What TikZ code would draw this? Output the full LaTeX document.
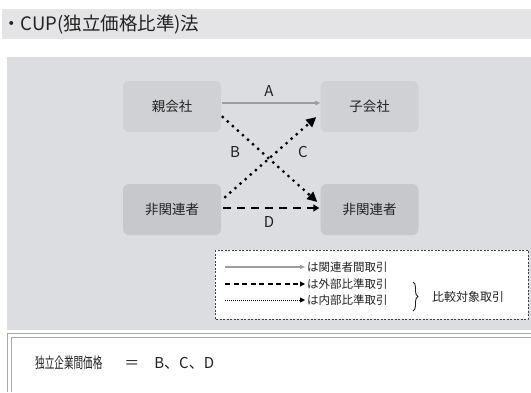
\documentclass[tikz,border=0pt]{standalone}
\usepackage{fontspec}
\usepackage{graphicx}
\setmainfont{Noto Sans CJK JP}
\usetikzlibrary{arrows.meta,decorations.pathreplacing}
\definecolor{barbg}{HTML}{E4E4E6}
\definecolor{panelbg}{HTML}{DCDDE0}
\definecolor{boxup}{HTML}{D0D1D4}
\definecolor{boxlow}{HTML}{C7C8CB}
\definecolor{txt}{HTML}{222222}
\definecolor{lineA}{HTML}{9C9C9C}
\definecolor{frame}{HTML}{A8A8A8}
\begin{document}
\begin{tikzpicture}[x=1pt,y=-1pt,
  ent/.style={rounded corners=6pt, minimum width=98pt, minimum height=51pt, inner sep=0pt, font=\fontsize{13.5}{13.5}\selectfont, text=txt},
  lbl/.style={font=\fontsize{15}{15}\selectfont, text=txt, inner sep=0pt},
  legtxt/.style={font=\fontsize{11.5}{11.5}\selectfont, text=txt, inner sep=0pt, anchor=west},
  arrA/.style={lineA, line width=1.3pt, -{Triangle[length=5pt,width=4.5pt]}},
  arrDot/.style={black, line width=3.2pt, line cap=round, dash pattern=on 0pt off 6.8pt, -{Triangle[length=10pt,width=9.5pt]}},
  arrDash/.style={black, line width=2.6pt, dash pattern=on 8pt off 6pt, -{Triangle[length=6pt,width=7pt]}},
  legA/.style={lineA, line width=1.2pt, -{Triangle[length=5pt,width=4pt]}},
  legDash/.style={black, line width=1.5pt, dash pattern=on 5pt off 3.5pt, -{Triangle[length=5pt,width=5pt]}},
  legDot/.style={black, line width=0.8pt, dash pattern=on 0.8pt off 1.2pt, -{Triangle[length=5pt,width=5pt]}}
]
\useasboundingbox (0,0) rectangle (531,392);
\fill[white] (0,0) rectangle (531,392);
% title bar
\fill[barbg] (2,9) rectangle (531,39);
\node[anchor=west, inner sep=0pt, text=txt, font=\fontsize{18.5}{18.5}\selectfont] (title) at (2,24) {・CUP(独立価格比準)法};
% panel
\fill[panelbg] (7,57) rectangle (531,330);
% entity boxes
\node[ent, fill=boxup] (p) at (172,106.5) {親会社};
\node[ent, fill=boxup] (c) at (369.5,106.5) {子会社};
\node[ent, fill=boxlow] (n1) at (172,209.5) {非関連者};
\node[ent, fill=boxlow] (n2) at (369.5,209.5) {非関連者};
% connectors
\draw[arrA] ([xshift=1pt,yshift=3.5pt]p.east) -- ([yshift=3.5pt]c.west);
\draw[arrDot] ([xshift=1.5pt,yshift=-10.5pt]p.east) -- ([xshift=-3pt,yshift=7.5pt]n2.west);
\draw[arrDot] ([xshift=4pt,yshift=12.5pt]n1.east) -- ([xshift=-4pt,yshift=-10.5pt]c.west);
\draw[arrDash] ([xshift=2pt,yshift=1.5pt]n1.east) -- ([xshift=-1pt,yshift=1.5pt]n2.west);
% labels
\node[lbl] (lA) at (269,91) {A};
\node[lbl] (lB) at (235,152) {B};
\node[lbl] (lC) at (303,152) {C};
\node[lbl] (lD) at (269,222) {D};
% legend
\draw[fill=white, draw=black!75, line width=0.6pt, dash pattern=on 2pt off 1.5pt] (215,250) rectangle (528,319);
\coordinate (g1s) at (225,267); \coordinate (g1e) at (305,267);
\coordinate (g2s) at (225,284); \coordinate (g2e) at (305,284);
\coordinate (g3s) at (225,300); \coordinate (g3e) at (305,300);
\draw[legA] (g1s) -- (g1e);
\draw[legDash] (g2s) -- (g2e);
\draw[legDot] (g3s) -- (g3e);
\node[legtxt] (t1) at (307,267) {は関連者間取引};
\node[legtxt] (t2) at (307,284) {は外部比準取引};
\node[legtxt] (t3) at (307,300) {は内部比準取引};
\draw[txt, line width=0.9pt, decorate, decoration={brace, amplitude=5pt}] (413,282) -- (413,311);
\node[legtxt, font=\fontsize{12}{12}\selectfont] (cmp) at (432,297) {比較対象取引};
% bottom box
\draw[frame, line width=0.8pt] (7,392) -- (7,333) -- (531,333);
\draw[frame, line width=0.8pt] (11,392) -- (11,337) -- (531,337);
\node[anchor=west, inner sep=0pt, text=txt, font=\fontsize{15}{15}\selectfont] (formula) at (35,363)
  {\scalebox{0.64}[1]{独立企業間価格}\hspace{22pt}＝\hspace{15pt}B、C、D};
\end{tikzpicture}
\end{document}
